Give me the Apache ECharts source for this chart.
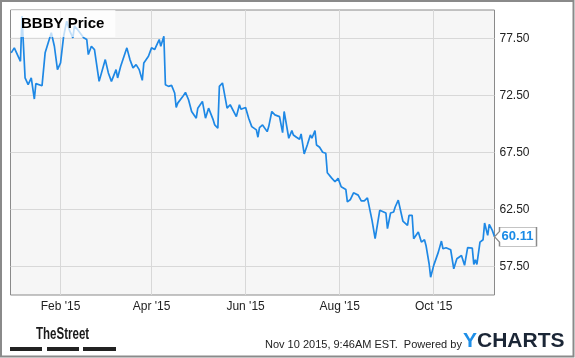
<!DOCTYPE html>
<html>
<head>
<meta charset="utf-8">
<script src="https://cdn.jsdelivr.net/npm/echarts@6/dist/echarts.min.js"></script>
<style>
html,body{margin:0;padding:0;background:#fff;}
#chart{width:575px;height:358px;}
</style>
</head>
<body>
<div id="chart"></div>
<script>
// ---- data ----
var dates = [
 '2014-12-31','2015-01-02','2015-01-06','2015-01-07','2015-01-09','2015-01-11','2015-01-13','2015-01-14','2015-01-15','2015-01-16',
 '2015-01-20','2015-01-22','2015-01-26','2015-01-28','2015-01-30','2015-02-01','2015-02-03','2015-02-05','2015-02-07','2015-02-09',
 '2015-02-10','2015-02-12','2015-02-16','2015-02-18','2015-02-19','2015-02-21','2015-02-23','2015-02-26','2015-03-02','2015-03-04',
 '2015-03-06','2015-03-09','2015-03-10','2015-03-12','2015-03-16','2015-03-18','2015-03-20','2015-03-22','2015-03-24','2015-03-26',
 '2015-03-27','2015-03-30','2015-04-01','2015-04-03','2015-04-05','2015-04-06','2015-04-07','2015-04-09','2015-04-10','2015-04-12',
 '2015-04-14','2015-04-16','2015-04-17','2015-04-18','2015-04-21','2015-04-23','2015-04-25','2015-04-27','2015-04-28','2015-04-30',
 '2015-05-01','2015-05-04','2015-05-06','2015-05-07','2015-05-08','2015-05-11','2015-05-12','2015-05-14','2015-05-15','2015-05-17',
 '2015-05-18','2015-05-20','2015-05-22','2015-05-26','2015-05-28','2015-05-29','2015-06-01','2015-06-03','2015-06-05','2015-06-08',
 '2015-06-09','2015-06-10','2015-06-12','2015-06-15','2015-06-16','2015-06-18','2015-06-20','2015-06-23','2015-06-24','2015-06-25',
 '2015-06-26','2015-06-29','2015-07-01','2015-07-02','2015-07-04','2015-07-06','2015-07-07','2015-07-09','2015-07-11','2015-07-13',
 '2015-07-14','2015-07-16','2015-07-17','2015-07-19','2015-07-21','2015-07-22','2015-07-23','2015-07-24','2015-07-27','2015-07-28',
 '2015-07-29','2015-07-31','2015-08-02','2015-08-05','2015-08-06','2015-08-08','2015-08-10','2015-08-13','2015-08-15','2015-08-17',
 '2015-08-19','2015-08-22','2015-08-24','2015-08-25','2015-08-27','2015-08-31','2015-09-01','2015-09-03','2015-09-05','2015-09-06',
 '2015-09-08','2015-09-11','2015-09-14','2015-09-15','2015-09-17','2015-09-18','2015-09-21','2015-09-23','2015-09-25','2015-09-26',
 '2015-09-28','2015-09-29','2015-10-01','2015-10-02','2015-10-04','2015-10-06','2015-10-07','2015-10-09','2015-10-12','2015-10-13',
 '2015-10-14','2015-10-16','2015-10-19','2015-10-20','2015-10-21','2015-10-23','2015-10-26','2015-10-27','2015-10-28','2015-10-29',
 '2015-10-31','2015-11-02','2015-11-03','2015-11-05','2015-11-06','2015-11-08','2015-11-09T10'
];
var prices = [
 76.24,76.68,75.50,79.46,74.04,73.45,74.04,74.18,72.19,73.54,
 73.36,76.24,78.00,76.82,74.77,75.36,77.70,79.02,78.14,77.56,
 78.58,78.29,77.56,77.41,76.09,76.82,76.53,73.74,75.65,74.48,
 73.74,74.77,74.04,75.06,76.68,75.65,74.92,75.21,74.77,73.83,
 75.36,75.94,76.68,76.53,77.12,77.41,76.82,77.70,73.45,73.30,
 73.39,72.72,71.45,71.83,72.36,72.77,72.13,71.10,71.10,70.51,
 71.39,71.98,70.51,70.65,71.39,70.36,69.92,69.63,73.30,73.60,
 73.74,71.39,71.69,70.65,71.69,71.30,71.45,70.51,69.77,69.48,
 68.84,69.68,69.92,69.33,69.77,71.10,70.80,70.65,70.80,69.24,
 71.10,68.75,69.42,69.04,68.84,68.66,69.13,67.37,68.16,69.04,
 68.75,69.42,68.16,67.96,67.52,67.66,67.43,65.72,65.23,65.31,
 64.93,65.23,64.49,64.26,63.17,63.38,63.96,63.76,63.25,63.25,
 63.52,61.55,59.94,60.03,62.43,62.19,60.82,62.19,62.28,62.72,
 63.32,61.49,61.11,61.99,61.99,59.94,60.52,59.64,59.85,59.35,
 57.74,56.56,57.60,57.44,58.76,59.73,59.06,59.15,58.97,58.91,
 57.30,58.18,58.47,58.61,57.60,59.15,59.12,57.68,58.09,57.68,
 59.64,59.85,61.31,60.23,61.20,60.67,60.11
];
var xTickDates = ['2015-02-01','2015-04-01','2015-06-01','2015-08-01','2015-10-01'];
var xTickLabels = ["Feb '15","Apr '15","Jun '15","Aug '15","Oct '15"];
var yTicks = [57.5, 62.5, 67.5, 72.5, 77.5];
var xRange = ['2014-12-30T13', '2015-11-09T10'];
var yRange = [55, 80];
var titleText = 'BBBY Price';
var stampText = 'Nov 10 2015, 9:46AM EST.  Powered by';

function toTime(s) {
  var p = s.split('T');
  var d = p[0].split('-');
  var h = p[1] ? parseInt(p[1], 10) : 0;
  return new Date(+d[0], +d[1] - 1, +d[2], h).getTime();
}
var seriesData = dates.map(function (d, i) { return [toTime(d), prices[i]]; });
var xTickTimes = xTickDates.map(toTime);
var last = seriesData[seriesData.length - 1];

var chart = echarts.init(document.getElementById('chart'), null, {renderer: 'canvas'});
var FONT = '"Liberation Sans", Arial, sans-serif';
chart.setOption({
  animation: false,
  backgroundColor: '#ffffff',
  title: {
    text: titleText,
    left: 11, top: 10,
    padding: [6, 11, 6, 10],
    backgroundColor: 'rgba(255,255,255,0.72)',
    textStyle: {fontFamily: FONT, fontSize: 15, fontWeight: 'bold', color: '#000'}
  },
  grid: {
    left: 10.5, top: 10, right: 80.5, bottom: 63,
    show: true, backgroundColor: '#f6f6f6', borderColor: '#8a8a8a', borderWidth: 1
  },
  xAxis: {
    type: 'value',
    min: toTime(xRange[0]), max: toTime(xRange[1]),
    axisLine: {show: false},
    axisTick: {show: false, customValues: xTickTimes},
    axisLabel: {
      customValues: xTickTimes,
      fontFamily: FONT, fontSize: 12, color: '#222', margin: 6,
      formatter: function (v) {
        var i = xTickTimes.indexOf(v);
        return i >= 0 ? xTickLabels[i] : '';
      }
    },
    splitLine: {show: true, lineStyle: {color: '#d8d8d8', width: 1}}
  },
  yAxis: {
    type: 'value', position: 'right',
    min: yRange[0], max: yRange[1],
    axisLine: {show: false},
    axisTick: {show: false, customValues: yTicks},
    axisLabel: {
      customValues: yTicks,
      fontFamily: FONT, fontSize: 12, color: '#222', margin: 5,
      formatter: function (v) { return v.toFixed(2); }
    },
    splitLine: {show: true, lineStyle: {color: '#d8d8d8', width: 1}}
  },
  series: [{
    type: 'line',
    data: seriesData,
    showSymbol: false,
    symbol: 'none',
    lineStyle: {color: '#1e88e5', width: 1.7},
    z: 3,
    markPoint: {
      silent: true,
      symbol: 'path://M0,9L5,4L5,0L42,0L42,18L5,18L5,14Z',
      symbolSize: [42, 19],
      symbolOffset: [21, 0],
      symbolKeepAspect: false,
      itemStyle: {color: '#ffffff', borderColor: '#8a8a8a', borderWidth: 1},
      label: {
        show: true, position: 'inside', offset: [2, 0],
        fontFamily: FONT, fontSize: 13, fontWeight: 'bold', color: '#1a8be6',
        formatter: function () { return last[1].toFixed(2); }
      },
      data: [{coord: last, value: last[1]}]
    }
  }],
  graphic: [
    {type: 'rect', shape: {x: 1, y: 1, width: 572.5, height: 355.5},
     style: {fill: 'none', stroke: '#8a8a8a', lineWidth: 2}, silent: true},
    {type: 'text', x: 36, y: 327, scaleX: 0.72,
     style: {text: 'TheStreet', fontFamily: FONT, fontSize: 16, fontWeight: 'bold', fill: '#1a1a1a'}},
    {type: 'rect', shape: {x: 10, y: 347, width: 32, height: 4}, style: {fill: '#222'}},
    {type: 'rect', shape: {x: 47, y: 347, width: 32, height: 4}, style: {fill: '#222'}},
    {type: 'rect', shape: {x: 83, y: 347, width: 33, height: 4}, style: {fill: '#222'}},
    {type: 'text', x: 265, y: 339,
     style: {text: stampText, fontFamily: FONT, fontSize: 11, fill: '#222'}},
    {type: 'text', x: 463, y: 331,
     style: {
       text: '{y|Y}{c|CHARTS}',
       rich: {
         y: {fontFamily: FONT, fontSize: 21, fontWeight: 'bold', fill: '#1e8fe8', color: '#1e8fe8'},
         c: {fontFamily: FONT, fontSize: 21, fontWeight: 'bold', fill: '#1b2636', color: '#1b2636'}
       }
     }}
  ]
});
</script>
</body>
</html>
